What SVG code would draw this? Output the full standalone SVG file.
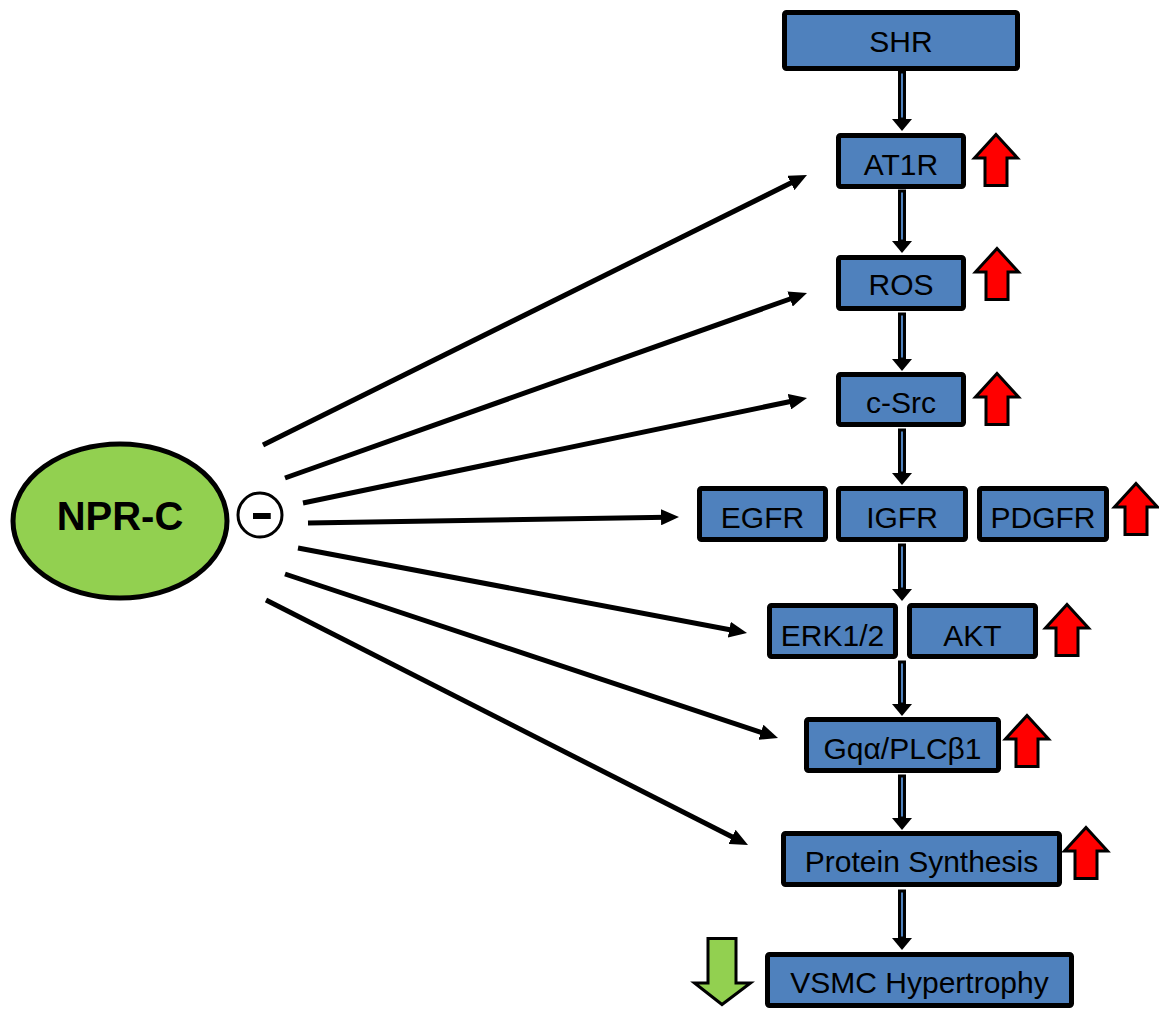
<svg xmlns="http://www.w3.org/2000/svg" width="1159" height="1009" viewBox="0 0 1159 1009">
<style>
.box{fill:#4F81BD;stroke:#000;stroke-width:5}
.lbl{font-family:"Liberation Sans",Arial,sans-serif;font-size:30px;fill:#000;text-anchor:middle}
.up{fill:#FF0000;stroke:#000;stroke-width:3;stroke-linejoin:miter}
.link{stroke:#000;stroke-width:5;fill:none;marker-end:url(#ah)}
.shaft{fill:#4F81BD;stroke:#000;stroke-width:3}
.head{fill:#000}
</style>
<defs>
<marker id="ah" viewBox="0 0 18 16" refX="6" refY="8" markerWidth="18" markerHeight="16" markerUnits="userSpaceOnUse" orient="auto">
<path d="M0,0 L18,8 L0,16 z" fill="#000"/>
</marker>
<path id="uparrow" class="up" d="M23,1.5 L44.5,25 L34,25 L34,52.5 L12,52.5 L12,25 L1.5,25 Z"/>
</defs>
<rect width="1159" height="1009" fill="#fff"/>

<g id="connectors">
<line class="link" x1="263" y1="445" x2="796.25" y2="180.34"/>
<line class="link" x1="285" y1="478" x2="795.7" y2="297"/>
<line class="link" x1="303" y1="503" x2="795.25" y2="400.45"/>
<line class="link" x1="308" y1="523" x2="667" y2="517.2"/>
<line class="link" x1="298" y1="548" x2="735.2" y2="630.8"/>
<line class="link" x1="285" y1="574" x2="766.6" y2="734.2"/>
<line class="link" x1="266" y1="600" x2="737.3" y2="839.6"/>

<rect class="shaft" x="899.5" y="72" width="5" height="47"/><polygon class="head" points="892,119 912,119 902,131"/>
<rect class="shaft" x="899.5" y="191" width="5" height="50"/><polygon class="head" points="892,241 912,241 902,253"/>
<rect class="shaft" x="899.5" y="314" width="5" height="45"/><polygon class="head" points="892,359 912,359 902,371"/>
<rect class="shaft" x="899.5" y="430" width="5" height="43"/><polygon class="head" points="892,473 912,473 902,485"/>
<rect class="shaft" x="899.5" y="545" width="5" height="44"/><polygon class="head" points="892,589 912,589 902,601"/>
<rect class="shaft" x="899.5" y="662" width="5" height="42"/><polygon class="head" points="892,704 912,704 902,716"/>
<rect class="shaft" x="899.5" y="776" width="5" height="42"/><polygon class="head" points="892,818 912,818 902,830"/>
<rect class="shaft" x="899.5" y="891" width="5" height="47"/><polygon class="head" points="892,938 912,938 902,950"/>
</g>

<g id="npr-c">
<ellipse cx="120" cy="521" rx="107" ry="77" fill="#92D050" stroke="#000" stroke-width="5"/>
<text x="120" y="530" font-family="'Liberation Sans',Arial,sans-serif" font-size="40" font-weight="bold" text-anchor="middle">NPR-C</text>
</g>

<g id="inhibit">
<circle cx="260" cy="515" r="22" fill="#fff" stroke="#000" stroke-width="3"/>
<text transform="translate(262,529) scale(1.4,1)" x="0" y="0" font-family="'Liberation Sans',Arial,sans-serif" font-size="50" font-weight="bold" text-anchor="middle">-</text>
</g>

<g id="shr"><rect class="box" x="784.5" y="12.5" width="233" height="56" rx="2"/><text class="lbl" x="901" y="52">SHR</text></g>
<g id="at1r"><rect class="box" x="838.5" y="135.5" width="125" height="51" rx="2"/><text class="lbl" x="901" y="175">AT1R</text><use href="#uparrow" x="973" y="133"/></g>
<g id="ros"><rect class="box" x="838.5" y="257.5" width="125" height="51" rx="2"/><text class="lbl" x="901" y="295">ROS</text><use href="#uparrow" x="974" y="247"/></g>
<g id="csrc"><rect class="box" x="838.5" y="374.5" width="125" height="50" rx="2"/><text class="lbl" x="901" y="413">c-Src</text><use href="#uparrow" x="974" y="372"/></g>
<g id="egfr"><rect class="box" x="699.5" y="488.5" width="126" height="51" rx="2"/><text class="lbl" x="762.5" y="528">EGFR</text></g>
<g id="igfr"><rect class="box" x="838.5" y="488.5" width="127" height="51" rx="2"/><text class="lbl" x="902" y="528">IGFR</text></g>
<g id="pdgfr"><rect class="box" x="979.5" y="488.5" width="127" height="51" rx="2"/><text class="lbl" x="1043" y="528">PDGFR</text><use href="#uparrow" x="1113" y="482"/></g>
<g id="erk"><rect class="box" x="769.5" y="605.5" width="126" height="51" rx="2"/><text class="lbl" x="832.5" y="646">ERK1/2</text></g>
<g id="akt"><rect class="box" x="909.5" y="605.5" width="126" height="51" rx="2"/><text class="lbl" x="972.5" y="646">AKT</text><use href="#uparrow" x="1044" y="603"/></g>
<g id="gq"><rect class="box" x="806.5" y="719.5" width="192" height="51" rx="2"/><text class="lbl" x="902.5" y="759">Gqα/PLCβ1</text><use href="#uparrow" x="1004" y="714"/></g>
<g id="protein"><rect class="box" x="783.5" y="833.5" width="276" height="51" rx="2"/><text class="lbl" x="921.5" y="872">Protein Synthesis</text><use href="#uparrow" x="1063" y="826"/></g>
<g id="vsmc"><rect class="box" x="767.5" y="954.5" width="304" height="51" rx="2"/><text class="lbl" x="919.5" y="993">VSMC Hypertrophy</text>
<path d="M708,938.5 L736,938.5 L736,983 L750.5,983 L722,1004.5 L694.5,983 L708,983 Z" fill="#92D050" stroke="#000" stroke-width="3"/></g>
</svg>
